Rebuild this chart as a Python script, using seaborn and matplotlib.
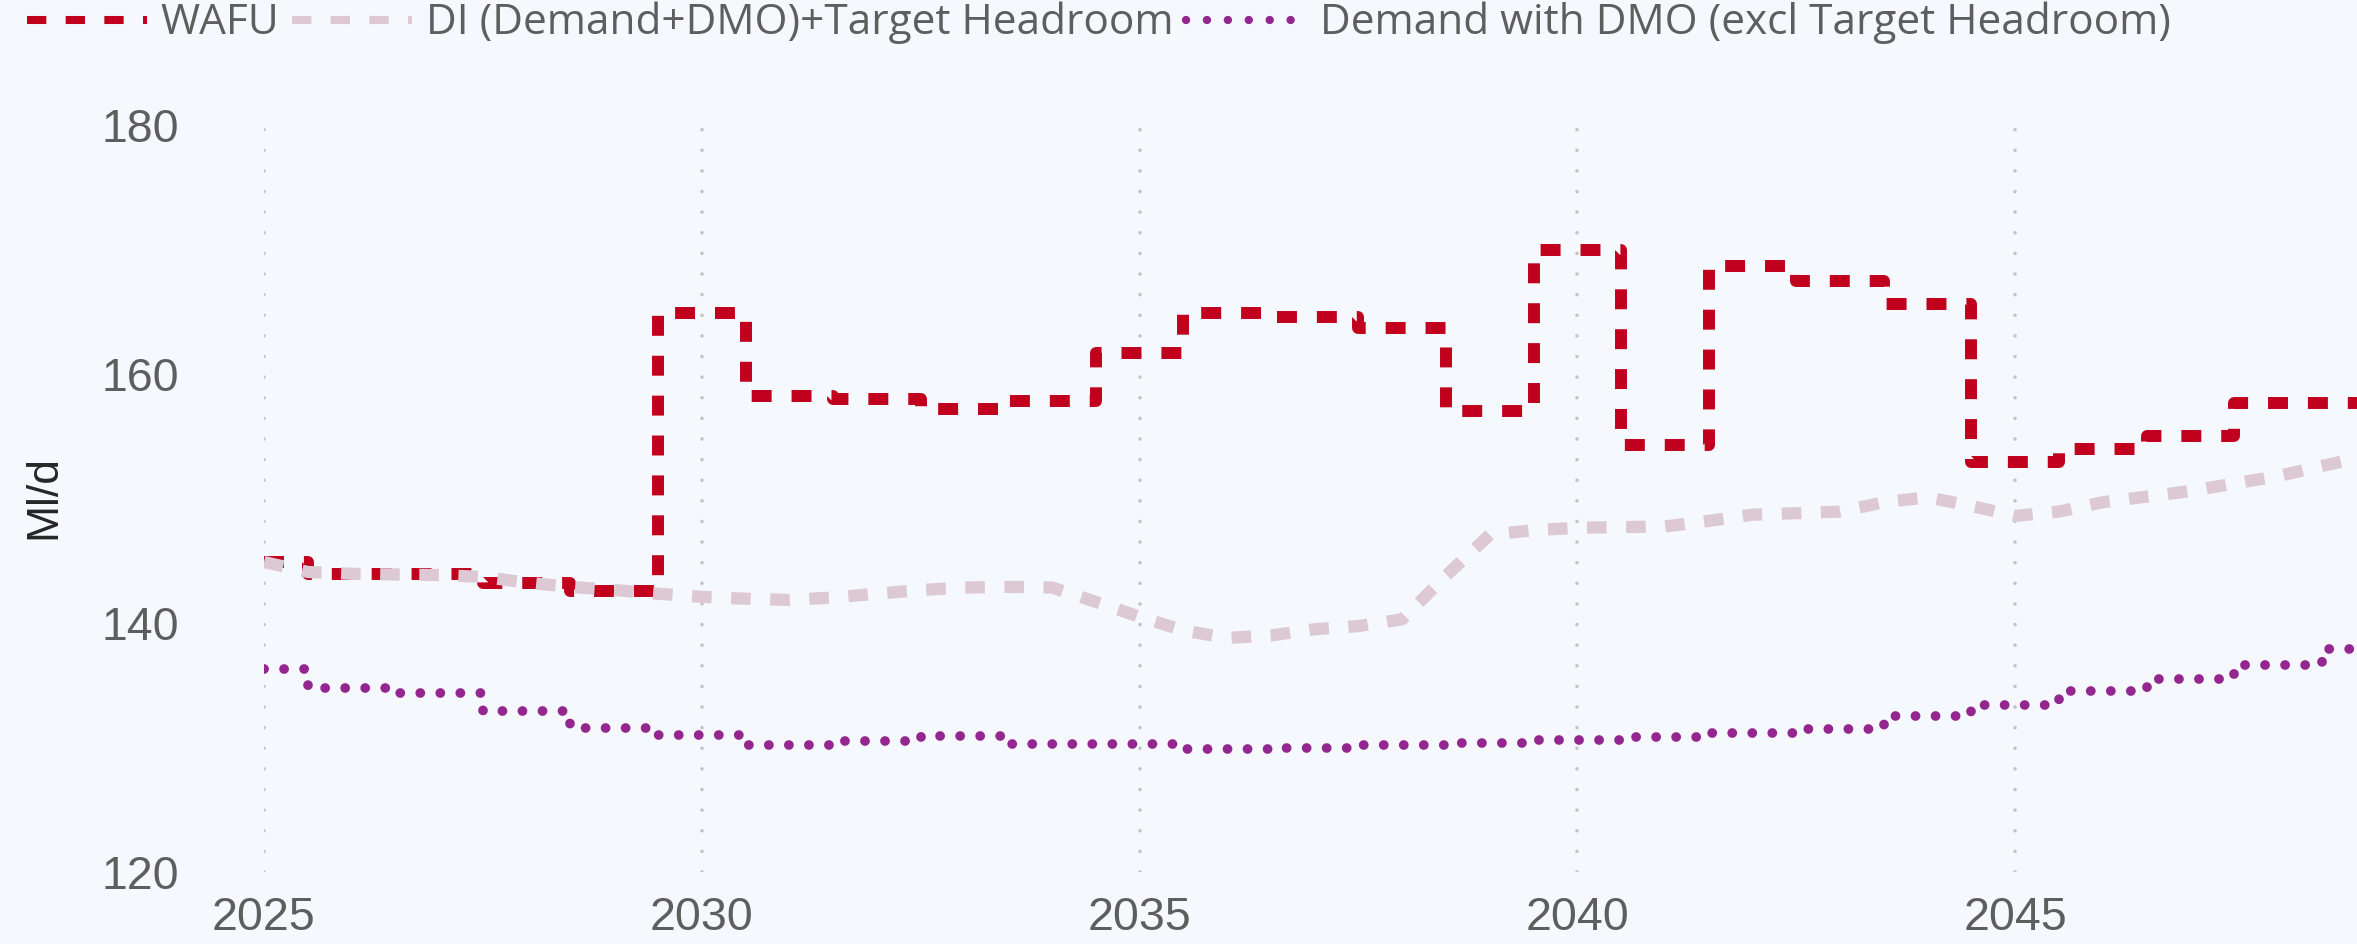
import numpy as np
import pandas as pd
import matplotlib
matplotlib.use("Agg")
import matplotlib.pyplot as plt
from matplotlib.lines import Line2D
import seaborn as sns

# ---------------- data ----------------
years = list(range(2025, 2050))
wafu = [144.9, 143.9, 143.9, 143.2, 142.6, 164.9, 158.2, 158.0, 157.2, 157.8,
        161.7, 164.9, 164.6, 163.7, 157.0, 170.0, 154.3, 168.7, 167.5, 165.6,
        152.9, 154.0, 155.0, 157.7, 157.7]
demand = [136.3, 134.8, 134.4, 132.9, 131.6, 131.0, 130.2, 130.5, 130.9, 130.3,
          130.3, 129.9, 130.0, 130.2, 130.4, 130.6, 130.85, 131.2, 131.5, 132.5,
          133.45, 134.5, 135.5, 136.6, 137.9]
di_x = [2025.0, 2025.5, 2026.0, 2026.5, 2027.0, 2027.5, 2028.0, 2028.5, 2029.0, 2029.5,
        2030.0, 2030.5, 2031.0, 2031.5, 2032.0, 2032.5, 2033.0, 2033.5, 2034.0, 2034.5,
        2035.0, 2035.5, 2036.0, 2036.5, 2037.0, 2037.5, 2038.0, 2038.5, 2039.0, 2039.5,
        2040.0, 2040.5, 2041.0, 2041.5, 2042.0, 2042.5, 2043.0, 2043.5, 2044.0, 2044.5,
        2045.0, 2045.5, 2046.0, 2046.5, 2047.0, 2047.5, 2048.0, 2048.5, 2049.0]
di = [144.9, 144.1, 143.95, 143.9, 143.85, 143.7, 143.25, 142.9, 142.65, 142.35,
      142.1, 141.95, 141.85, 142.05, 142.35, 142.65, 142.85, 142.9, 142.85, 141.7,
      140.5, 139.4, 138.8, 139.0, 139.5, 139.75, 140.3, 143.8, 147.1, 147.45,
      147.65, 147.7, 147.75, 148.2, 148.7, 148.82, 148.95, 149.7, 150.1, 149.4,
      148.6, 148.95, 149.7, 150.15, 150.6, 151.2, 151.8, 152.6, 153.4]
xticks = [2025, 2030, 2035, 2040, 2045]
yticks = [120, 140, 160, 180]
labels = ["WAFU", "DI (Demand+DMO)+Target Headroom", "Demand with DMO (excl Target Headroom)"]

RED = "#C0001D"
PINK = "#DDC9D3"
PURPLE = "#93278F"
BG = "#F5F8FC"

sns.set_style("white")
plt.rcParams['font.family'] = ['Liberation Sans', 'DejaVu Sans']

W, H = 2357, 944
fig = plt.figure(figsize=(W / 100, H / 100), dpi=100)
fig.patch.set_facecolor(BG)
ax = fig.add_axes([264 / W, 1 - 872 / H, 1 - 264 / W, (872 - 125) / H])
ax.set_facecolor(BG)

df_w = pd.DataFrame({"year": years, "value": wafu})
df_d = pd.DataFrame({"year": years, "value": demand})
df_i = pd.DataFrame({"year": di_x, "value": di})

sns.lineplot(data=df_w, x="year", y="value", ax=ax, color=RED, lw=8.6,
             linestyle=(0, (1.67, 1.67)), drawstyle="steps-mid",
             dash_capstyle="butt", legend=False)
sns.lineplot(data=df_i, x="year", y="value", ax=ax, color=PINK, lw=8.8,
             linestyle=(0, (1.6, 1.6)), dash_capstyle="butt", legend=False)
sns.lineplot(data=df_d, x="year", y="value", ax=ax, color=PURPLE, lw=7.0,
             linestyle=(0, (0.01, 2.05)), drawstyle="steps-mid",
             dash_capstyle="round", legend=False)

ax.set_xlim(2025, 2025 + (W - 264) / 87.56)
ax.set_ylim(120, 180)
ax.set_xticks(xticks)
ax.set_yticks(yticks)
ax.set_xlabel("")
ax.set_ylabel("")
for s in ax.spines.values():
    s.set_visible(False)
ax.xaxis.grid(True, color="#C4C4C4", linestyle=(0, (0.01, 5.7)), lw=2.6,
              dash_capstyle="round")
ax.yaxis.grid(False)
ax.tick_params(axis="x", length=0, pad=17, labelsize=33.5, labelcolor="#5E5E5E")
ax.tick_params(axis="y", length=0, pad=61, labelsize=33.5, labelcolor="#5E5E5E")

fig.text(44 / W, 1 - 497 / H, "Ml/d", rotation=90, ha="center", va="center",
         fontsize=32, color="#262626")

handles = [
    Line2D([], [], color=RED, lw=5.8, linestyle=(0, (2.4, 2.4)), dash_capstyle="butt"),
    Line2D([], [], color=PINK, lw=5.8, linestyle=(0, (2.4, 2.4)), dash_capstyle="butt"),
    Line2D([], [], color=PURPLE, lw=6.0, linestyle=(0, (0.01, 2.5)), dash_capstyle="round"),
]
leg = fig.legend(handles, labels, loc="upper left", bbox_to_anchor=(27 / W, 1 - 2 / H),
                 ncol=3, frameon=False, prop={"family": ["Open Sans", "DejaVu Sans"], "size": 30.5},
                 handlelength=2.83, handletextpad=0.33, columnspacing=0.3,
                 borderaxespad=0, borderpad=0)
for t in leg.get_texts():
    t.set_color("#5E5E5E")

fig.savefig("out.png", dpi=100, facecolor=BG)
